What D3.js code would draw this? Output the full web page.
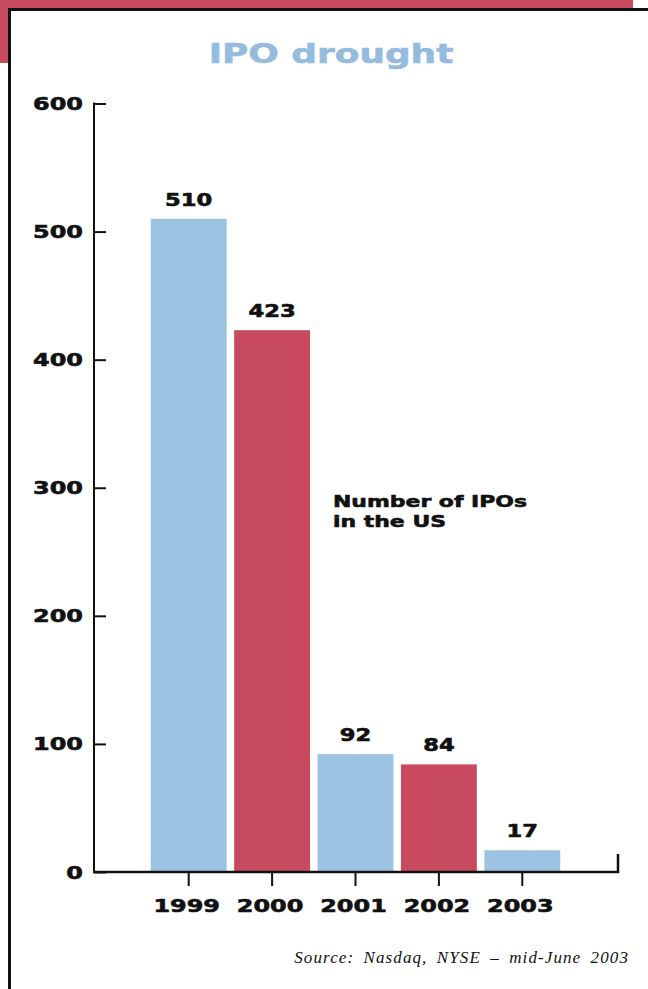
<!DOCTYPE html>
<html>
<head>
<meta charset="utf-8">
<script src="https://cdn.jsdelivr.net/npm/d3@7/dist/d3.min.js"></script>
<style>
  html, body { margin: 0; padding: 0; background: #ffffff; }
  svg { display: block; }
  .wide { font-family: "DejaVu Sans", sans-serif; font-weight: bold; }
</style>
</head>
<body>
<script>
// IPO counts in the US by year
const years = ["1999", "2000", "2001", "2002", "2003"];
const ipoCounts = [510, 423, 92, 84, 17];
const barColors = ["#9cc3e2", "#c84a5f", "#9cc3e2", "#c84a5f", "#9cc3e2"];
const yTicks = [0, 100, 200, 300, 400, 500, 600];
const titleText = "IPO drought";
const noteLines = ["Number of IPOs", "in the US"];
const sourceText = "Source: Nasdaq, NYSE \u2013 mid-June 2003";

const W = 648, H = 989;
const RED = "#c84a5f", TITLE_BLUE = "#95bcdf";
const STRETCH = 1.33; // horizontal stretch for the extended display face

const svg = d3.select("body").append("svg")
  .attr("width", W).attr("height", H);

// Frame: red corner band behind the white panel, with black rule on top/left
svg.append("rect").attr("x", 0).attr("y", 0).attr("width", 633).attr("height", 63).attr("fill", RED);
svg.append("rect").attr("x", 8).attr("y", 8).attr("width", W - 8).attr("height", H - 8).attr("fill", "#ffffff");
svg.append("path").attr("d", `M9.5,${H} V9.5 H${W}`)
  .attr("fill", "none").attr("stroke", "#111").attr("stroke-width", 3);

// Scales
const y = d3.scaleLinear().domain([0, 600]).range([872, 103.5]);
const x = d3.scaleBand().domain(years).range([147, 564])
  .paddingInner(0.09).paddingOuter(0.045);

const axisX0 = 94, axisX1 = 618;

// helper for stretched, heavy text
function wideText(g, tx, ty, txt, size, anchor, fill) {
  const c = fill || "#111";
  return g.append("text")
    .attr("class", "wide")
    .attr("transform", `translate(${tx},${ty}) scale(${STRETCH},1)`)
    .attr("text-anchor", anchor)
    .attr("font-size", size)
    .attr("fill", c)
    .attr("stroke", c)
    .attr("stroke-width", 0.6)
    .attr("stroke-linejoin", "round")
    .text(txt);
}

// Title
wideText(svg, 331, 63, titleText, 27, "middle", TITLE_BLUE);

// Bars
svg.append("g").selectAll("rect")
  .data(years)
  .join("rect")
  .attr("x", d => x(d))
  .attr("y", (d, i) => y(ipoCounts[i]))
  .attr("width", x.bandwidth())
  .attr("height", (d, i) => y(0) - y(ipoCounts[i]))
  .attr("fill", (d, i) => barColors[i]);

// Value labels
const vl = svg.append("g");
years.forEach((d, i) => {
  wideText(vl, x(d) + x.bandwidth() / 2, y(ipoCounts[i]) - 13, String(ipoCounts[i]), 17, "middle");
});

// Y axis (ticks point inward, labels drawn separately)
const yAxis = d3.axisRight(y).tickValues(yTicks).tickSize(12).tickFormat("");
const yg = svg.append("g").attr("transform", `translate(${axisX0},0)`).call(yAxis);
yg.select(".domain").remove();
yg.selectAll(".tick line").attr("stroke", "#111").attr("stroke-width", 2);
svg.append("line").attr("x1", axisX0).attr("x2", axisX0)
  .attr("y1", y(600) - 1).attr("y2", y(0))
  .attr("stroke", "#111").attr("stroke-width", 2);

const yl = svg.append("g");
yTicks.forEach(t => {
  wideText(yl, 83, y(t) + 6.5, String(t), 18, "end");
});

// X axis: baseline with raised right end, ticks under bar centres
svg.append("path")
  .attr("d", `M${axisX0 - 1},${y(0)} H${axisX1} V${y(0) - 18}`)
  .attr("fill", "none").attr("stroke", "#111").attr("stroke-width", 2.5);

const xAxis = d3.axisBottom(x).tickSize(13).tickFormat("");
const xg = svg.append("g").attr("transform", `translate(0,${y(0) + 1})`).call(xAxis);
xg.select(".domain").remove();
xg.selectAll(".tick line").attr("stroke", "#111").attr("stroke-width", 2);

const xl = svg.append("g");
years.forEach(d => {
  wideText(xl, x(d) + x.bandwidth() / 2 - 2, 912, d, 18, "middle");
});

// Annotation
noteLines.forEach((line, i) => {
  wideText(svg, 333, 507 + i * 20, line, 16.5, "start");
});

// Source line
svg.append("text")
  .attr("x", 629).attr("y", 963)
  .attr("text-anchor", "end")
  .attr("font-family", "'Liberation Serif', serif")
  .attr("font-style", "italic")
  .attr("font-size", 17)
  .attr("letter-spacing", 1.1)
  .attr("word-spacing", 4)
  .attr("fill", "#111")
  .text(sourceText);
</script>
</body>
</html>
